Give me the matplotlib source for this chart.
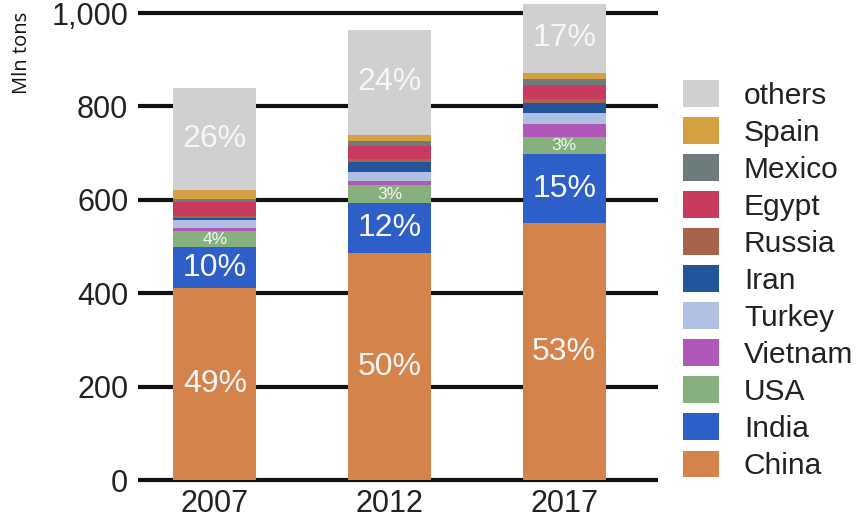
import matplotlib
matplotlib.use("Agg")
import matplotlib.pyplot as plt
from matplotlib.patches import Patch

plt.rcParams["font.family"] = ["Liberation Sans", "DejaVu Sans"]

years = ["2007", "2012", "2017"]
countries = ["China", "India", "USA", "Vietnam", "Turkey", "Iran",
             "Russia", "Egypt", "Mexico", "Spain", "others"]
china   = [412, 486, 550]
india   = [86, 107, 148]
usa     = [36, 39, 36]
vietnam = [6, 9, 28]
turkey  = [17, 19, 24]
iran    = [4, 21, 21]
russia  = [5, 6, 9]
egypt   = [30, 28, 30]
mexico  = [5, 11, 13]
spain   = [21, 13, 13]
others  = [218, 225, 148]
series = [china, india, usa, vietnam, turkey, iran, russia, egypt, mexico, spain, others]
colors = ["#D4834A", "#2E5FC8", "#86B07E", "#B058B8", "#AFC0E2", "#23559A",
          "#A8634A", "#C83A5E", "#6C7B7B", "#D4A040", "#D0D0D0"]

china_lbl  = ["49%", "50%", "53%"]
india_lbl  = ["10%", "12%", "15%"]
usa_lbl    = ["4%", "3%", "3%"]
others_lbl = ["26%", "24%", "17%"]
yticks = [0, 200, 400, 600, 800, 1000]
ytick_labels = ["0", "200", "400", "600", "800", "1,000"]

W, H = 856, 519
fig = plt.figure(figsize=(W / 100, H / 100), dpi=100)
ax_left, ax_right = 138, 658
ylo, yhi = -10, 1028
px_per = 467 / 1000
ax_bottom_px = 480 + (-ylo) * px_per
ax = fig.add_axes([ax_left / W, (H - ax_bottom_px) / H, (ax_right - ax_left) / W, ax_bottom_px / H])

x = [0, 1, 2]
width = 0.474
bottom = [0, 0, 0]
for vals, col in zip(series, colors):
    ax.bar(x, vals, width, bottom=bottom, color=col, zorder=3, linewidth=0)
    bottom = [b + v for b, v in zip(bottom, vals)]

ax.set_xlim(-0.44, 2.537)
ax.set_ylim(ylo, yhi)
ax.set_yticks(yticks)
ax.set_yticklabels(ytick_labels)
ax.set_xticks(x)
ax.set_xticklabels(years)
for s in ax.spines.values():
    s.set_visible(False)
ax.tick_params(axis="y", length=0, pad=7, labelsize=22, labelcolor="#222222")
ax.tick_params(axis="x", length=0, pad=3, labelsize=22, labelcolor="#222222")
for yv in yticks:
    ax.axhline(yv, color="#111111", lw=3, zorder=1)

# percentage labels
def put(vals_below, vals, labels, size):
    for i in range(3):
        yc = vals_below[i] + vals[i] / 2
        ax.text(x[i], yc, labels[i], ha="center", va="center",
                color="#F6F6F6", fontsize=size, zorder=5)

zero = [0, 0, 0]
put(zero, china, china_lbl, 23)
put(china, india, india_lbl, 23)
put([a + b for a, b in zip(china, india)], usa, usa_lbl, 12.5)
below_others = [sum(s[i] for s in series[:-1]) for i in range(3)]
put(below_others, others, others_lbl, 23)

fig.text(22 / W, (H - 53) / H, "Mln tons", rotation=90, ha="center", va="center",
         fontsize=14.5, family="Open Sans", color="#111111")

handles = [Patch(facecolor=c, edgecolor="none") for c in colors][::-1]
labels = countries[::-1]
fig.legend(handles, labels, loc="upper left", bbox_to_anchor=(683 / W, (H - 80) / H),
           frameon=False, fontsize=21.5, handlelength=1.2, handleheight=1.0,
           labelspacing=0.25, handletextpad=0.84, borderaxespad=0, borderpad=0,
           labelcolor="#222222")

fig.savefig("out.png", dpi=100)
